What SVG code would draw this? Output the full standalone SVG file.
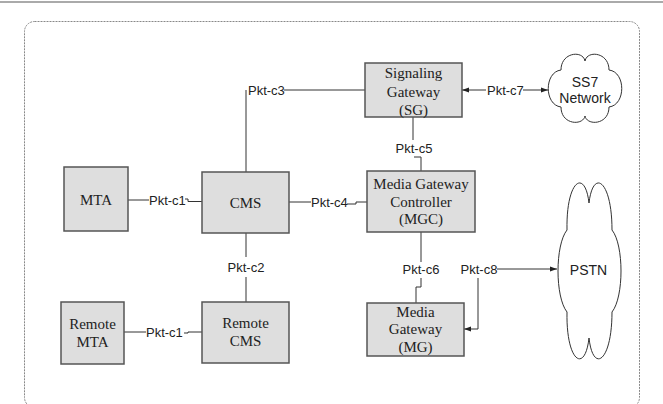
<svg xmlns="http://www.w3.org/2000/svg" width="663" height="404" viewBox="0 0 663 404">
<defs>
<style>
.box{fill:#dedede;stroke:#555;stroke-width:1.5}
.bt{font-family:"Liberation Serif","Times New Roman",serif;font-size:15px;fill:#222;text-anchor:middle}
.lbl{font-family:"Liberation Sans",Arial,sans-serif;font-size:13px;fill:#222}
.ct{font-family:"Liberation Sans",Arial,sans-serif;font-size:14px;fill:#222;text-anchor:middle}
.cl{fill:#fff;stroke:#333;stroke-width:1}
.ln{fill:none;stroke:#333;stroke-width:1}
</style>
<marker id="ah" viewBox="0 0 10 10" refX="10" refY="5" markerWidth="7" markerHeight="7" orient="auto-start-reverse" markerUnits="userSpaceOnUse">
<path d="M0,1.5 L10,5 L0,8.5 Z" fill="#222"/>
</marker>
</defs>
<rect width="663" height="404" fill="#fff"/>
<line x1="0" y1="2" x2="663" y2="2" stroke="#aaa" stroke-width="2"/>
<rect x="24.5" y="21.5" width="615" height="386" rx="10" fill="none" stroke="#888" stroke-width="1" stroke-dasharray="2,1"/>

<g id="connectors">
<path class="ln" d="M246,172 V90"/>
<path class="ln" d="M284,90 H365"/>
<path class="ln" d="M486,90 H462" marker-end="url(#ah)"/>
<path class="ln" d="M523,90 H548" marker-end="url(#ah)"/>
<path class="ln" d="M413,117 V140"/>
<path class="ln" d="M414,157 H421 V171"/>
<path class="ln" d="M128,200 H149"/>
<path class="ln" d="M185,199 H188 V201.5 H202"/>
<path class="ln" d="M289,202 H311"/>
<path class="ln" d="M347,204 H356 V202 H367"/>
<path class="ln" d="M246,233 V257"/>
<path class="ln" d="M246,277 V302"/>
<path class="ln" d="M421,232 V262"/>
<path class="ln" d="M421,278 V287 H416 V303"/>
<path class="ln" d="M497,269 H557" marker-end="url(#ah)"/>
<path class="ln" d="M478,278 V329 H464" marker-end="url(#ah)"/>
<path class="ln" d="M124,332 H146"/>
<path class="ln" d="M184,333 H188 V332 H202"/>
<text class="lbl" x="248" y="94.5">Pkt-c3</text>
<text class="lbl" x="487" y="94.5">Pkt-c7</text>
<text class="lbl" x="414" y="152.5" text-anchor="middle">Pkt-c5</text>
<text class="lbl" x="149" y="204.5">Pkt-c1</text>
<text class="lbl" x="311" y="206.5">Pkt-c4</text>
<text class="lbl" x="246" y="271.5" text-anchor="middle">Pkt-c2</text>
<text class="lbl" x="421" y="273.5" text-anchor="middle">Pkt-c6</text>
<text class="lbl" x="479" y="273.5" text-anchor="middle">Pkt-c8</text>
<text class="lbl" x="146" y="336.5">Pkt-c1</text>
</g>

<g id="sg">
<rect class="box" x="365" y="63" width="97" height="54"/>
<text class="bt" x="413.5" y="78">Signaling</text>
<text class="bt" x="413.5" y="97">Gateway</text>
<text class="bt" x="413.5" y="115">(SG)</text>
</g>
<g id="ss7">
<path class="cl" d="M561,70 C561,52 583,50 585,61 C587,50 609,52 609,70 C626,72 626,105 609,107 C609,125 587,126 585,116 C583,126 561,125 561,107 C544,105 544,72 561,70 Z"/>
<text class="ct" x="585" y="87">SS7</text>
<text class="ct" x="585" y="103">Network</text>
</g>
<g id="mgc">
<rect class="box" x="367" y="171" width="108" height="61"/>
<text class="bt" x="421" y="189">Media Gateway</text>
<text class="bt" x="421" y="207">Controller</text>
<text class="bt" x="421" y="224">(MGC)</text>
</g>
<g id="mg">
<rect class="box" x="367" y="303" width="97" height="53"/>
<text class="bt" x="415.5" y="317">Media</text>
<text class="bt" x="415.5" y="334">Gateway</text>
<text class="bt" x="415.5" y="352">(MG)</text>
</g>
<g id="pstn">
<path class="cl" d="M567,230 C566,180 585,168 589,203 C593,168 612,180 612,230 C624,245 624,297 612,312 C612,362 593,374 589,338 C585,374 566,362 567,312 C555,297 555,245 567,230 Z"/>
<text class="ct" x="588.5" y="275">PSTN</text>
</g>
<g id="mta">
<rect class="box" x="64" y="167" width="64" height="64"/>
<text class="bt" x="96" y="205">MTA</text>
</g>
<g id="cms">
<rect class="box" x="202" y="172" width="87" height="61"/>
<text class="bt" x="245.5" y="208">CMS</text>
</g>
<g id="remote-cms">
<rect class="box" x="202" y="302" width="87" height="61"/>
<text class="bt" x="245.5" y="328">Remote</text>
<text class="bt" x="245.5" y="346">CMS</text>
</g>
<g id="remote-mta">
<rect class="box" x="61" y="302" width="63" height="62"/>
<text class="bt" x="92.5" y="329">Remote</text>
<text class="bt" x="92.5" y="347">MTA</text>
</g>
</svg>
